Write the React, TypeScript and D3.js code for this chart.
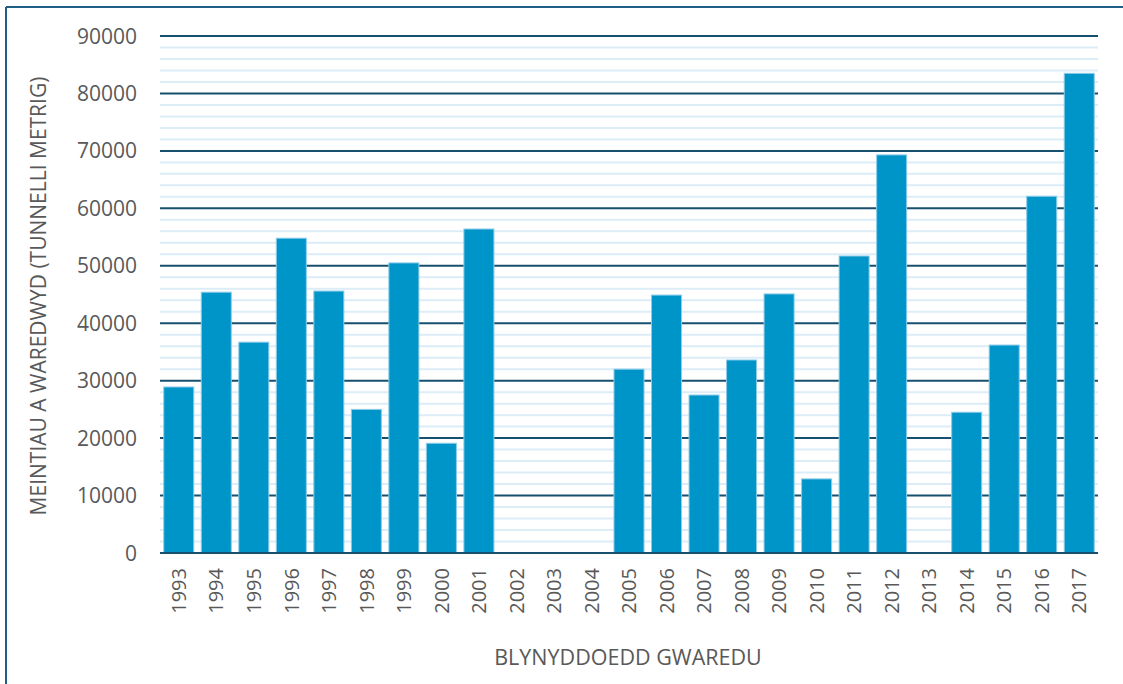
import React from "react";
import * as d3 from "d3";

const years: string[] = [
  "1993","1994","1995","1996","1997","1998","1999","2000","2001","2002","2003","2004",
  "2005","2006","2007","2008","2009","2010","2011","2012","2013","2014","2015","2016","2017",
];
const values: number[] = [
  28900, 45400, 36700, 54800, 45600, 25000, 50500, 19100, 56400, 0, 0, 0,
  32000, 44900, 27500, 33600, 45100, 12900, 51700, 69300, 0, 24500, 36200, 62100, 83500,
];
const majorTicks: number[] = [0, 10000, 20000, 30000, 40000, 50000, 60000, 70000, 80000, 90000];
const yTitle = "MEINTIAU A WAREDWYD (TUNNELLI METRIG)";
const xTitle = "BLYNYDDOEDD GWAREDU";

const W = 1123;
const H = 684;
const left = 160;
const right = 1098;
const top = 36;
const bottom = 553;
const font = "'Open Sans', sans-serif";
const textColor = "#595959";

export default function App() {
  const x = d3.scaleBand<string>().domain(years).range([left, right]).paddingInner(0.2).paddingOuter(0.1);
  const y = d3.scaleLinear().domain([0, 90000]).range([bottom, top]);
  const minorTicks = d3.range(0, 90001, 2000).filter((v) => v % 10000 !== 0);

  return (
    <div style={{ position: "absolute", left: 0, top: 0 }}>
      <svg width={W} height={H} style={{ display: "block", background: "#fff" }}>
        <line x1={6} y1={7} x2={W} y2={7} stroke="#1f5f85" strokeWidth={2} />
        <line x1={6} y1={7} x2={6} y2={H} stroke="#1f5f85" strokeWidth={2} />
        {minorTicks.map((t) => (
          <line key={"m" + t} x1={left} x2={right} y1={y(t)} y2={y(t)} stroke="#dcedf8" strokeWidth={2} />
        ))}
        {majorTicks.map((t) => (
          <line key={"M" + t} x1={left} x2={right} y1={y(t)} y2={y(t)} stroke="#17506e" strokeWidth={2} />
        ))}
        {years.map((yr, i) =>
          values[i] > 0 ? (
            <rect
              key={yr}
              x={x(yr)!}
              y={y(values[i])}
              width={x.bandwidth()}
              height={bottom - y(values[i])}
              fill="#0095c9"
              stroke="#8ccbe8"
              strokeWidth={1}
            />
          ) : null
        )}
        <line x1={left} x2={right} y1={y(0)} y2={y(0)} stroke="#17506e" strokeWidth={2} />
        {majorTicks.map((t) => (
          <text key={"l" + t} x={137} y={y(t)} dy="0.36em" textAnchor="end" fontFamily={font} fontSize={21} fill={textColor}>
            {t}
          </text>
        ))}
        {years.map((yr) => {
          const cx = x(yr)! + x.bandwidth() / 2;
          return (
            <text
              key={"x" + yr}
              transform={`translate(${cx},568) rotate(-90)`}
              textAnchor="end"
              dy="0.36em"
              fontFamily={font}
              fontSize={20}
              fill={textColor}
            >
              {yr}
            </text>
          );
        })}
        <text transform={`translate(38,296) rotate(-90)`} textAnchor="middle" dy="0.36em" fontFamily={font} fontSize={21} fill={textColor}>
          {yTitle}
        </text>
        <text x={628} y={657} textAnchor="middle" dy="0.36em" fontFamily={font} fontSize={21.5} fill={textColor}>
          {xTitle}
        </text>
      </svg>
    </div>
  );
}
